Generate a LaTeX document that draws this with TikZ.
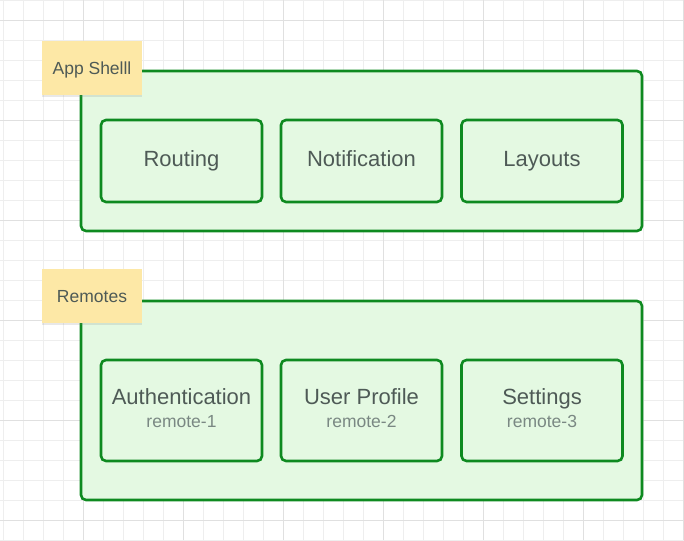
\documentclass[tikz,border=0pt]{standalone}
\usepackage{fontspec}
\setmainfont{Liberation Sans}
\usepackage{tikz}
\usetikzlibrary{positioning,shadows}
\definecolor{boxgreen}{RGB}{14,138,32}
\definecolor{boxfill}{RGB}{228,249,226}
\definecolor{stickyyellow}{RGB}{253,232,166}
\definecolor{labelgrey}{RGB}{78,90,86}
\definecolor{taggrey}{RGB}{122,136,131}
\definecolor{minorgrid}{RGB}{238,238,238}
\definecolor{majorgrid}{RGB}{224,224,224}
\newcommand{\remotetag}[1]{{\fontsize{17.5}{23}\selectfont\color{taggrey}#1}}

\begin{document}
\begin{tikzpicture}[x=1pt,y=-1pt,
    group/.style={draw=boxgreen, fill=boxfill, line width=2.6pt, rounded corners=5pt, minimum width=561pt},
    part/.style={draw=boxgreen, fill=boxfill, line width=2.6pt, rounded corners=5pt, minimum width=161pt,
        text=labelgrey, font=\fontsize{22}{23}\selectfont, text height=16pt, text depth=4.6pt, align=center},
    sticky/.style={fill=stickyyellow, minimum width=100pt, minimum height=54pt, text=labelgrey,
        font=\fontsize{17.5}{20}\selectfont, text height=12.5pt, text depth=0pt,
        drop shadow={shadow xshift=0pt, shadow yshift=-2pt, opacity=0.18}}]
    \useasboundingbox (0,0) rectangle (684,540);
    \foreach \gx in {3,23,...,683} \draw[minorgrid, line width=0.8pt] (\gx,0) -- (\gx,540);
    \foreach \gy in {0,20,...,540} \draw[minorgrid, line width=0.8pt] (0,\gy) -- (684,\gy);
    \foreach \gx in {83,183,...,683} \draw[majorgrid, line width=0.8pt] (\gx,0) -- (\gx,540);
    \foreach \gy in {20,120,...,520} \draw[majorgrid, line width=0.8pt] (0,\gy) -- (684,\gy);

    \node[group, minimum height=160pt] (shell) at (361.5,151) {};
    \node[part, minimum height=82pt] (sh1) at (181.5,161) {Routing};
    \node[part, minimum height=82pt] (sh2) at (361.5,161) {Notification};
    \node[part, minimum height=82pt] (sh3) at (542,161) {Layouts};
    \node[sticky] (shellnote) at (92,68) {App Shelll};

    \node[group, minimum height=199pt] (rem) at (361.5,400.5) {};
    \node[part, minimum height=101pt, text height=39pt] (r1) at (181.5,410.5) {Authentication\\\remotetag{remote-1}};
    \node[part, minimum height=101pt, text height=39pt] (r2) at (361.5,410.5) {User Profile\\\remotetag{remote-2}};
    \node[part, minimum height=101pt, text height=39pt] (r3) at (542,410.5) {Settings\\\remotetag{remote-3}};
    \node[sticky] (remnote) at (92,296) {Remotes};
\end{tikzpicture}
\end{document}
